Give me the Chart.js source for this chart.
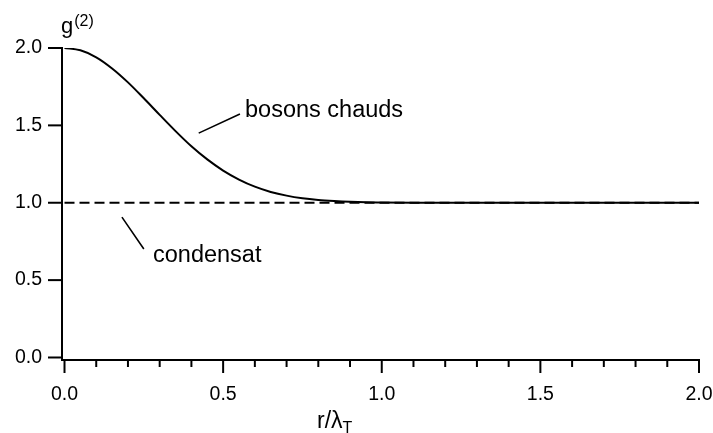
<!DOCTYPE html>
<html>
<head>
<meta charset="utf-8">
<script src="https://cdn.jsdelivr.net/npm/chart.js@4/dist/chart.umd.min.js"></script>
<style>
  html, body { margin: 0; padding: 0; background: #fff; }
  #wrap { width: 713px; height: 433px; position: relative; }
</style>
</head>
<body>
<div id="wrap"><canvas id="c" width="713" height="433"></canvas></div>
<script>
// ---- data ----
const rValues = [0, 0.05, 0.1, 0.15, 0.2, 0.25, 0.3, 0.35, 0.4, 0.45, 0.5, 0.55, 0.6, 0.65, 0.7, 0.75, 0.8, 0.85, 0.9, 0.95, 1.0, 1.1, 1.2, 1.4, 1.6, 1.8, 2.0];
const g2Hot = [2.000, 1.985, 1.940, 1.868, 1.778, 1.675, 1.568, 1.463, 1.365, 1.280, 1.208, 1.150, 1.104, 1.070, 1.046, 1.029, 1.018, 1.011, 1.006, 1.003, 1.002, 1.0005, 1.0, 1.0, 1.0, 1.0, 1.0];
const rCondensate = [0, 2.0];
const g2Condensate = [1.0, 1.0];
const xTickValues = [0, 0.1, 0.2, 0.3, 0.4, 0.5, 0.6, 0.7, 0.8, 0.9, 1.0, 1.1, 1.2, 1.3, 1.4, 1.5, 1.6, 1.7, 1.8, 1.9, 2.0];
const xLabelValues = [0, 0.5, 1.0, 1.5, 2.0];
const yTickValues = [0, 0.5, 1.0, 1.5, 2.0];
const labelHot = "bosons chauds";
const labelCond = "condensat";

const FONT = "'Liberation Sans', Arial, Helvetica, sans-serif";

const hotPoints = rValues.map((r, i) => ({ x: r, y: g2Hot[i] }));
const condPoints = rCondensate.map((r, i) => ({ x: r, y: g2Condensate[i] }));

const isMajorX = v => xLabelValues.some(m => Math.abs(m - v) < 1e-6);

const decorPlugin = {
  id: 'decor',
  afterDraw(chart) {
    const ctx = chart.ctx;
    const xs = chart.scales.x, ys = chart.scales.y;
    const area = chart.chartArea;
    ctx.save();
    ctx.strokeStyle = '#000';
    ctx.lineWidth = 2;
    // x ticks
    xTickValues.forEach(v => {
      const px = xs.getPixelForValue(v);
      const len = isMajorX(v) ? 13 : 7;
      ctx.beginPath();
      ctx.moveTo(px, area.bottom);
      ctx.lineTo(px, area.bottom + len);
      ctx.stroke();
    });
    // y ticks
    yTickValues.forEach(v => {
      const py = ys.getPixelForValue(v);
      ctx.beginPath();
      ctx.moveTo(area.left, py);
      ctx.lineTo(area.left - 14, py);
      ctx.stroke();
    });
    // annotations
    ctx.fillStyle = '#000';
    ctx.textBaseline = 'alphabetic';
    ctx.textAlign = 'left';
    // g(2)
    ctx.font = '22px ' + FONT;
    ctx.fillText('g', 61, 33);
    const gw = ctx.measureText('g').width;
    ctx.font = '16px ' + FONT;
    ctx.fillText('(2)', 61 + gw + 1, 26);
    // x title r/λT
    ctx.font = '23px ' + FONT;
    const t1 = 'r/λ';
    const w1 = ctx.measureText(t1).width;
    ctx.fillText(t1, 317, 428);
    ctx.font = '16px ' + FONT;
    ctx.fillText('T', 317 + w1, 433);
    // labels
    ctx.font = '23.5px ' + FONT;
    ctx.fillText(labelHot, 245, 117);
    ctx.fillText(labelCond, 153, 262);
    ctx.lineWidth = 1.6;
    ctx.beginPath();
    ctx.moveTo(xs.getPixelForValue(0.423), ys.getPixelForValue(1.45));
    ctx.lineTo(xs.getPixelForValue(0.553), ys.getPixelForValue(1.573));
    ctx.moveTo(xs.getPixelForValue(0.181), ys.getPixelForValue(0.907));
    ctx.lineTo(xs.getPixelForValue(0.250), ys.getPixelForValue(0.701));
    ctx.stroke();
    ctx.restore();
  }
};

new Chart(document.getElementById('c'), {
  type: 'scatter',
  data: {
    datasets: [
      {
        label: labelCond,
        data: condPoints,
        showLine: true,
        borderColor: '#000',
        borderWidth: 1.9,
        borderDash: [10, 5],
        pointRadius: 0,
        fill: false
      },
      {
        label: labelHot,
        data: hotPoints,
        showLine: true,
        borderColor: '#000',
        borderWidth: 2,
        pointRadius: 0,
        cubicInterpolationMode: 'monotone',
        fill: false
      }
    ]
  },
  options: {
    responsive: false,
    animation: false,
    devicePixelRatio: 1,
    layout: { padding: { left: 0, top: 48, right: 14, bottom: 0 } },
    plugins: { legend: { display: false }, tooltip: { enabled: false } },
    scales: {
      x: {
        type: 'linear',
        min: -0.0079,
        max: 2.0,
        afterBuildTicks: s => { s.ticks = xTickValues.map(v => ({ value: v })); },
        afterFit: s => { s.height = 73; s.paddingLeft = 0; s.paddingRight = 0; },
        grid: { display: false, drawTicks: false, tickLength: 0 },
        border: { display: true, color: '#000', width: 2 },
        ticks: {
          autoSkip: false,
          maxRotation: 0,
          minRotation: 0,
          padding: 23,
          color: '#000',
          font: { family: FONT, size: 19.5 },
          callback: v => isMajorX(v) ? Number(v).toFixed(1) : ''
        }
      },
      y: {
        type: 'linear',
        min: -0.0162,
        max: 2.0,
        afterBuildTicks: s => { s.ticks = yTickValues.map(v => ({ value: v })); },
        afterFit: s => { s.width = 62; s.paddingTop = 0; s.paddingBottom = 0; },
        grid: { display: false, drawTicks: false, tickLength: 0 },
        border: { display: true, color: '#000', width: 2 },
        ticks: {
          padding: 20,
          color: '#000',
          font: { family: FONT, size: 19.5 },
          callback: v => Number(v).toFixed(1)
        }
      }
    }
  },
  plugins: [decorPlugin]
});
</script>
</body>
</html>
